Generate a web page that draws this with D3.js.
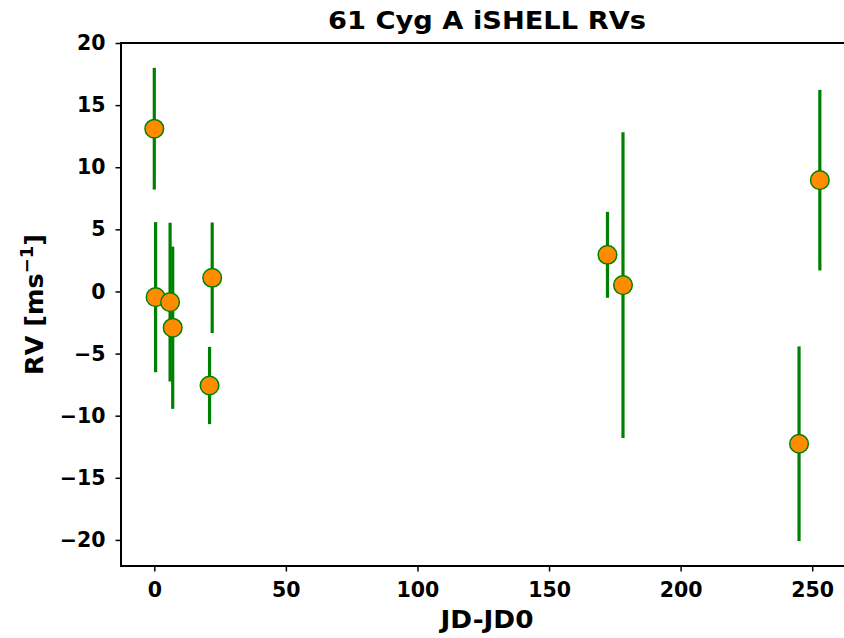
<!DOCTYPE html>
<html><head><meta charset="utf-8">
<script src="https://cdn.jsdelivr.net/npm/d3@7"></script>
<style>
body{margin:0;background:#fff;}
svg{display:block;font-family:"DejaVu Sans",sans-serif;font-weight:bold;}
</style></head>
<body><svg id="c" width="844" height="638"></svg>
<script>
const jd  = [0.0, 0.5, 6.0, 7.0, 21.0, 22.0, 172.2, 178.1, 245.0, 252.9];
const rv  = [13.1, -0.46, -0.86, -2.92, -7.57, 1.10, 2.95, 0.51, -12.26, 8.96];
const err = [4.9, 6.04, 6.39, 6.53, 3.11, 4.45, 3.46, 12.3, 7.84, 7.27];
const xTicks = [0, 50, 100, 150, 200, 250];
const yTicks = [-20, -15, -10, -5, 0, 5, 10, 15, 20];
const title = "61 Cyg A iSHELL RVs";
const xLabel = "JD-JD0";

const svg = d3.select("#c");
const L = 121, T = 43, R = 853, B = 566;
const x = d3.scaleLinear().domain([-12.65, 265.5]).range([L, R]);
const y = d3.scaleLinear().domain([-22.1, 20]).range([B, T]);

const fmt = d => d3.format("")(d).replace("-", "\u2212");

const gx = svg.append("g").attr("transform", `translate(0,${B})`)
  .call(d3.axisBottom(x).tickValues(xTicks).tickSize(5.5).tickPadding(11).tickFormat(fmt));
const gy = svg.append("g").attr("transform", `translate(${L},0)`)
  .call(d3.axisLeft(y).tickValues(yTicks).tickSize(5.5).tickPadding(10).tickFormat(fmt));
[gx, gy].forEach(g => {
  g.select(".domain").remove();
  g.selectAll(".tick line").attr("stroke", "#000").attr("stroke-width", 1.5);
  g.selectAll(".tick text").attr("fill", "#000").style("font-size", "20.5px")
    .style("font-family", "DejaVu Sans").style("font-weight", "bold");
});

// spines
svg.append("rect").attr("x", L).attr("y", T).attr("width", R - L).attr("height", B - T)
  .attr("fill", "none").attr("stroke", "#000").attr("stroke-width", 2);

const idx = d3.range(jd.length);
svg.append("g").selectAll("line").data(idx).join("line")
  .attr("x1", i => x(jd[i])).attr("x2", i => x(jd[i]))
  .attr("y1", i => y(rv[i] - err[i])).attr("y2", i => y(rv[i] + err[i]))
  .attr("stroke", "#008000").attr("stroke-width", 3.2);
svg.append("g").selectAll("circle").data(idx).join("circle")
  .attr("cx", i => x(jd[i])).attr("cy", i => y(rv[i])).attr("r", 9.3)
  .attr("fill", "#ff8c00").attr("stroke", "#008000").attr("stroke-width", 1.5);

svg.append("text").attr("x", (L + R) / 2).attr("y", 29).attr("text-anchor", "middle")
  .attr("textLength", 318).attr("lengthAdjust", "spacingAndGlyphs")
  .style("font-size", "25px").text(title);
svg.append("text").attr("x", (L + R) / 2).attr("y", 628).attr("text-anchor", "middle")
  .attr("textLength", 93).attr("lengthAdjust", "spacingAndGlyphs")
  .style("font-size", "25.5px").text(xLabel);
const yl = svg.append("text").attr("transform", `translate(43,${(T + B) / 2}) rotate(-90)`)
  .attr("text-anchor", "middle").style("font-size", "25.5px");
yl.append("tspan").text("RV [ms");
yl.append("tspan").attr("dy", -10).style("font-size", "18px").text("\u22121");
yl.append("tspan").attr("dy", 10).text("]");
</script></body></html>
